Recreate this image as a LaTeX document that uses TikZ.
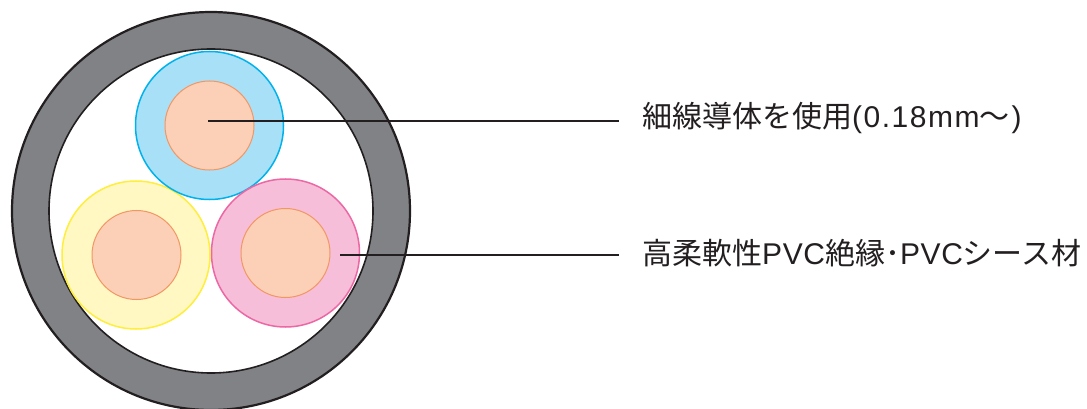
\documentclass[tikz,border=0pt]{standalone}
\usepackage{fontspec}
\newfontfamily\jpfont{Noto Sans CJK JP}
\newfontfamily\latfont[LetterSpace=2]{Liberation Sans}
\newfontfamily\latwide[LetterSpace=5]{Liberation Sans}
\definecolor{ringgray}{RGB}{128,130,133}
\definecolor{inkblack}{RGB}{35,31,32}
\definecolor{bluefill}{RGB}{168,224,247}
\definecolor{bluedraw}{RGB}{0,178,236}
\definecolor{yelfill}{RGB}{255,248,195}
\definecolor{yeldraw}{RGB}{255,238,60}
\definecolor{pinkfill}{RGB}{246,190,216}
\definecolor{pinkdraw}{RGB}{236,104,164}
\definecolor{corefill}{RGB}{252,208,182}
\definecolor{coredraw}{RGB}{242,150,100}
\tikzset{
  insul/.style={circle, inner sep=0pt, minimum size=148pt, line width=1.5pt},
  core/.style={circle, inner sep=0pt, minimum size=89pt, fill=corefill, draw=coredraw, line width=1pt},
  leader/.style={draw=inkblack, line width=2pt},
  label/.style={anchor=base west, inner sep=0pt, font=\jpfont\fontsize{30}{30}\selectfont, text=inkblack}
}
\begin{document}
\begin{tikzpicture}[x=1pt,y=-1pt]
\useasboundingbox (0,0) rectangle (1087,409);
% sheath
\node[circle, inner sep=0pt, minimum size=398pt, fill=ringgray, draw=inkblack, line width=2.2pt] (sheath) at (211,211) {};
\node[circle, inner sep=0pt, minimum size=324pt, fill=white, draw=inkblack, line width=1.6pt] (inside) at (211,211) {};
% insulated conductors
\node[insul, fill=yelfill, draw=yeldraw] (yel) at (136,255) {};
\node[core] (yelcore) at (136.5,255) {};
\node[insul, fill=bluefill, draw=bluedraw] (blue) at (209.5,125.5) {};
\node[core] (bluecore) at (209.5,125.5) {};
\node[insul, fill=pinkfill, draw=pinkdraw] (pink) at (285.5,253) {};
\node[core] (pinkcore) at (285.5,253) {};
% labels
\node[label] (lab1) at (642,127.5) {細線導体を使用{\latwide (0.18mm}～\hspace{2pt}{\latfont )}};
\node[label] (lab2) at (642,264.5) {高柔軟性{\latfont PVC}絶縁･{\latfont PVC}シース材};
\coordinate (p1) at (208,121);
\coordinate (q1) at (619,121);
\coordinate (p2) at (340,255);
\coordinate (q2) at (619,255);
\draw[leader] (p1) -- (q1);
\draw[leader] (p2) -- (q2);
\end{tikzpicture}
\end{document}
